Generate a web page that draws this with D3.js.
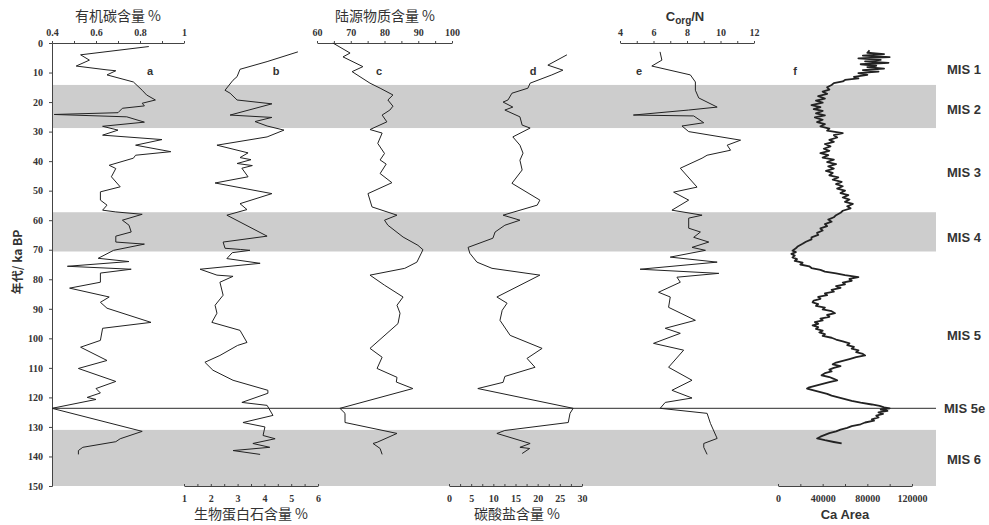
<!DOCTYPE html>
<html>
<head>
<meta charset="utf-8">
<script src="https://cdn.jsdelivr.net/npm/d3@7"></script>
<style>
  body { margin: 0; background: #fff; }
  .tick text { font-family: "Liberation Serif", serif; font-weight: bold; font-size: 10px; fill: #333; }
  .domain, .tick line { stroke: #444; }
  .title { font-family: "Noto Sans CJK SC", sans-serif; font-size: 14px; fill: #333; }
  .mis { font-family: "Liberation Sans", Arial, sans-serif; font-weight: bold; font-size: 13px; fill: #333; }
  .letter { font-family: "Liberation Sans", Arial, sans-serif; font-weight: bold; font-size: 11px; fill: #333; }
</style>
</head>
<body>
<div id="chart"></div>
<script>
// ages in ka BP
var orgC = [[1.2,0.84],[4,0.53],[5.8,0.57],[7.8,0.51],[9.1,0.65],[9.4,0.69],[10.8,0.65],[13.2,0.77],[16,0.81],[17.6,0.83],
  [19.3,0.87],[20.4,0.81],[21.3,0.82],[22.1,0.72],[23.6,0.70],[24.2,0.41],[25,0.74],[26.8,0.82],[28.2,0.63],[29.5,0.70],
  [31.2,0.63],[32.7,0.90],[34.6,0.78],[36.8,0.94],[38,0.78],[39,0.77],[41.4,0.66],[42.5,0.69],[45.3,0.67],[48.7,0.71],
  [50.4,0.62],[53.2,0.62],[54.9,0.65],[56.6,0.63],[57.2,0.69],[58,0.81],[60,0.72],[61.7,0.75],[64,0.76],[65.4,0.69],
  [67.4,0.69],[68.1,0.82],[70.2,0.68],[72.9,0.61],[74,0.75],[75.6,0.47],[76.6,0.76],[77.9,0.62],[81,0.62],[83,0.48],
  [86,0.66],[87.8,0.62],[89.8,0.65],[94.6,0.85],[96.6,0.63],[100.7,0.62],[103,0.53],[107.5,0.65],[110.2,0.52],[114.6,0.69],
  [117,0.60],[118.5,0.62],[120,0.56],[120.7,0.60],[123.7,0.40],[131.5,0.81],[134,0.71],[135,0.69],[136.9,0.54],[138,0.52],[139.3,0.52]];

var opal = [[3,5.25],[6.3,4.1],[8.9,3.09],[11.4,2.98],[12.6,2.83],[16,2.53],[17,2.72],[19.3,2.98],[20.6,4.28],[24.4,2.72],
  [25.2,4.28],[26.6,3.65],[28.1,4.1],[29.5,4.73],[31.8,4.1],[34.6,2.23],[37.2,3.39],[38.8,3.09],[39.5,3.5],[40.8,2.98],
  [41.5,3.55],[42.4,3.16],[45.3,3.39],[47.4,2.16],[51,4.28],[54.4,3.09],[56.4,3.35],[58.3,2.6],[65.4,4.1],[67.4,2.46],
  [69.5,2.53],[69.9,3.1],[70.2,3.46],[71,2.8],[73,2.6],[74.6,3.84],[76.6,1.6],[78.6,2.23],[79,2.83],[81,2.34],
  [85.4,2.46],[88.8,2.16],[91.5,2.23],[94.6,2.04],[97.3,3.09],[101.4,3.35],[102.4,3.0],[105.8,2.34],[108.1,1.78],[110.8,2.08],
  [114.2,2.83],[117.6,4.13],[118.6,4.13],[121.7,3.16],[122.7,4.1],[126.1,4.32],[128.5,3.2],[130,4.02],[132.9,3.95],[134,4.4],
  [135.6,3.57],[136.9,4.2],[138,2.83],[139.3,3.84]];

var terr = [[0,64.7],[3.4,69.8],[4.7,67.7],[8,73.6],[9.7,70.4],[13.6,75.7],[15.3,78.7],[17.6,82.5],[19.3,81],[21.4,82.5],
  [22.7,81.6],[24.4,79.3],[26.7,80.7],[29.3,75.7],[30.5,79.3],[34,78],[37.4,80],[39.6,78.7],[41,80.5],[44.2,78.7],
  [47.3,82.2],[51,75.1],[55.5,76.3],[58.3,83.7],[60,80],[61.7,81],[65.7,85.5],[68.5,89.9],[70,91.4],[74.2,89.6],
  [76.3,86],[78.6,75.7],[82,80],[86,85.5],[88.8,83.7],[91.5,84.6],[95,84],[103.4,75.7],[106.4,79.3],[110.2,77.8],
  [113.2,83.7],[114.8,83.5],[117,88.4],[123.7,66.8],[125.4,68.3],[128.5,68.3],[132.2,83.7],[135.2,77.8],[135.6,76.6],[137.3,78.7],[139.3,79.3]];

var carb = [[4,26.6],[7.5,22.3],[9.2,25.7],[10.8,23.2],[13.6,18.3],[15.3,17.8],[17,14.2],[19.3,13.3],[20,12.2],[21.7,14.4],
  [22.7,12.6],[25,16],[27.8,16.5],[28.8,18.3],[31.8,14.4],[34.6,16],[37.3,16.7],[39.7,16],[43,16.5],[47.5,14.2],
  [53.2,20.5],[54.9,19.9],[58.3,12.2],[60,16],[61.7,12.6],[64,10.4],[66.1,9.9],[69.2,4.3],[71.2,4.7],[74.2,6.3],
  [76.3,9.7],[78.6,20.5],[86,10.8],[88.1,13.1],[90.5,12],[93.9,11.5],[99,13.8],[103.4,21],[106.8,17.6],[109.8,19.4],
  [112.9,12.6],[114.9,12.2],[117,6.5],[123.7,28],[125.4,27.3],[128.5,26.9],[131.2,12.6],[132.2,10.8],[135.6,18.3],[136.9,16],
  [137.3,18.2],[139,16.5]];

var cn = [[3,6.39],[5.8,6.5],[7.8,5.9],[10.8,8.2],[13.2,8.5],[16,8.5],[18.6,8.7],[21.7,9.8],[22.7,8.1],[24.4,4.8],
  [24.7,8.4],[27,9.0],[28.1,7.7],[30,8.1],[32.9,11.2],[34.6,10.4],[36.3,10.6],[38,9.2],[39,8.9],[42.4,7.6],
  [48.8,8.6],[50.5,7.2],[53.2,8.1],[56.6,7.1],[58.3,8.9],[59.3,8.1],[62.7,8.1],[64,8.8],[65.8,8.4],[67.4,9.3],
  [69.2,8.3],[70.2,9.1],[72.5,7],[74.2,9.8],[76.6,5.2],[78,9.9],[79.3,7.4],[81,7.6],[84.4,6.3],[86,7],
  [89.5,6.9],[93.9,8.5],[96.6,6.7],[98.3,7.6],[101.7,6],[104,7.8],[109.8,6.9],[114.2,8.3],[117.6,7.1],[120.2,8.3],
  [121.7,6.7],[123.7,6.4],[125.4,9.2],[128.8,9.4],[133.9,9.8],[135.6,9.0],[136.9,9.0],[139.3,9.2]];

var caArea = [[2.5,82000],[3.3,80000],[3.8,95000],[4.3,76000],[4.8,100000],[5.2,72000],[5.7,92000],[6.2,78000],[6.7,99000],[7.2,74000],
  [7.7,88000],[8.2,80000],[8.7,95000],[9.2,76000],[9.7,90000],[10.2,72000],[10.8,80000],[11.5,68000],[12,72000],[12.5,60000],
  [13,58000],[13.6,50000],[14.2,48000],[15,44000],[15.8,46000],[16.5,40000],[17.2,44000],[18,36000],[18.8,42000],[19.5,34000],
  [20.2,40000],[21,30000],[21.7,38000],[22.4,32000],[23,40000],[23.8,34000],[24.5,42000],[25.2,33000],[26,40000],[26.8,35000],
  [27.5,42000],[28.2,38000],[29,46000],[29.7,44000],[30.5,58000],[31.2,50000],[32,53000],[32.8,46000],[33.5,50000],[34.2,42000],
  [35,47000],[35.8,41000],[36.5,46000],[37.3,38000],[38,45000],[38.8,40000],[39.5,50000],[40.3,44000],[41,52000],[41.8,45000],
  [42.5,50000],[43.3,43000],[44,49000],[44.8,46000],[45.5,54000],[46.3,49000],[47,57000],[47.8,52000],[48.5,58000],[49.3,53000],
  [50,60000],[50.8,56000],[51.5,63000],[52.3,58000],[53,64000],[53.8,60000],[54.5,67000],[55.3,62000],[56,65000],[56.8,58000],
  [57.5,56000],[58.3,52000],[59,50000],[59.8,45000],[60.5,48000],[61.3,42000],[62,44000],[62.8,38000],[63.5,40000],[64.3,35000],
  [65,36000],[65.8,30000],[66.5,30000],[67.3,25000],[68,22000],[68.8,18000],[69.5,16000],[70.3,13000],[70.8,16000],[71.4,12000],
  [72,15000],[72.6,13000],[73.2,17000],[73.8,15000],[74.4,22000],[75,20000],[75.6,28000],[76.2,30000],[76.8,38000],[77.4,42000],
  [78,52000],[78.6,60000],[79.3,72000],[79.9,64000],[80.5,66000],[81.1,58000],[81.7,60000],[82.3,52000],[82.9,56000],[83.6,48000],
  [84.2,50000],[84.8,42000],[85.4,44000],[86,36000],[86.6,38000],[87.2,32000],[87.8,31000],[88.4,36000],[89,34000],[89.6,42000],
  [90.2,40000],[90.8,48000],[91.5,51000],[92.1,44000],[92.7,46000],[93.3,38000],[93.9,40000],[94.5,33000],[95.1,36000],[95.6,31000],
  [96.2,36000],[96.8,34000],[97.4,40000],[98,37000],[98.6,42000],[99.2,40000],[99.8,48000],[100.4,52000],[101,58000],[101.7,64000],
  [102.3,62000],[102.9,68000],[103.5,66000],[104.1,72000],[104.7,70000],[105.3,76000],[105.8,78000],[106.4,70000],[107,64000],[107.6,58000],
  [108.2,52000],[108.8,49000],[109.4,56000],[110,50000],[110.6,46000],[111.2,48000],[111.8,42000],[112.5,39000],[113.1,46000],[113.7,50000],
  [114.2,53000],[114.8,46000],[115.4,40000],[116,34000],[116.6,28000],[117,26000],[117.6,32000],[118.2,38000],[118.8,44000],[119.4,48000],
  [120,54000],[120.6,60000],[121.2,66000],[121.8,74000],[122.4,84000],[122.9,91000],[123.4,95000],[123.7,100000],[124.1,92000],[124.6,98000],
  [125.1,90000],[125.6,94000],[126.2,88000],[126.8,90000],[127.4,84000],[127.9,86000],[128.5,78000],[129.1,74000],[129.7,66000],[130.3,62000],
  [130.9,56000],[131.5,52000],[132.1,46000],[132.7,42000],[133.3,38000],[133.9,35000],[134.5,42000],[135.1,50000],[135.6,57000]];

// glacial stages (shaded) and MIS labels
var bands = [[14.2, 28.8], [57.3, 70.6], [131, 150]];
var misNames = ["MIS 1", "MIS 2", "MIS 3", "MIS 4", "MIS 5", "MIS 5e", "MIS 6"];
var misAges = [8.7, 22.5, 43.7, 65.8, 99, 123.7, 141];
var mis5e = 123.7;
var yTicks = [0, 10, 20, 30, 40, 50, 60, 70, 80, 90, 100, 110, 120, 130, 140, 150];

var svgWidth = 989;
var svgHeight = 525;

var svg = d3.select("#chart")
    .append("svg")
    .attr("width", svgWidth)
    .attr("height", svgHeight);

var yScale = d3.scaleLinear().domain([0, 150]).range([43, 486]);
var xLeft = 52, xRight = 936;

// shaded bands
svg.selectAll("rect.band")
    .data(bands)
    .enter()
    .append("rect")
    .attr("x", xLeft)
    .attr("width", xRight - xLeft)
    .attr("y", d => yScale(d[0]))
    .attr("height", d => yScale(d[1]) - yScale(d[0]))
    .attr("fill", "#cdcdcd");

// MIS 5e line
svg.append("line")
    .attr("x1", xLeft).attr("x2", xRight)
    .attr("y1", yScale(mis5e)).attr("y2", yScale(mis5e))
    .attr("stroke", "#555").attr("stroke-width", 1.2);

// y axis
svg.append("g")
    .attr("transform", `translate(${xLeft},0)`)
    .call(d3.axisLeft(yScale).tickValues(yTicks).tickSize(3).tickPadding(6));

svg.append("text")
    .attr("class", "title")
    .attr("transform", `translate(22, 262) rotate(-90)`)
    .attr("text-anchor", "middle")
    .style("font-weight", "bold")
    .style("font-size", "12px")
    .text("年代/ ka BP");

// x scales
var xA = d3.scaleLinear().domain([0.4, 1]).range([52, 184]);
var xB = d3.scaleLinear().domain([1, 6]).range([184, 318]);
var xC = d3.scaleLinear().domain([60, 100]).range([317, 452]);
var xD = d3.scaleLinear().domain([0, 30]).range([449, 582]);
var xE = d3.scaleLinear().domain([4, 12]).range([620, 754]);
var xF = d3.scaleLinear().domain([0, 120000]).range([778, 912]);

function topAxis(scale, labels, step) {
    var d = scale.domain();
    var ticks = d3.range(d[0], d[1] + step / 2, step);
    svg.append("g")
        .attr("transform", "translate(0,43)")
        .call(d3.axisTop(scale).tickValues(ticks).tickSize(2).tickSizeOuter(0).tickPadding(5)
            .tickFormat(v => labels.some(l => Math.abs(l - v) < 1e-6) ? d3.format("~g")(v) : ""));
}
function bottomAxis(scale, labels, step) {
    var d = scale.domain();
    var ticks = d3.range(d[0], d[1] + step / 2, step);
    svg.append("g")
        .attr("transform", "translate(0,486)")
        .call(d3.axisBottom(scale).tickValues(ticks).tickSize(-2).tickSizeOuter(0).tickPadding(9)
            .tickFormat(v => labels.some(l => Math.abs(l - v) < 1e-6) ? d3.format("~g")(v) : ""));
}

topAxis(xA, [0.4, 0.6, 0.8, 1], 0.1);
topAxis(xC, [60, 70, 80, 90, 100], 5);
topAxis(xE, [4, 6, 8, 10, 12], 1);
bottomAxis(xB, [1, 2, 3, 4, 5, 6], 0.5);
bottomAxis(xD, [0, 5, 10, 15, 20, 25, 30], 2.5);
bottomAxis(xF, [0, 40000, 80000, 120000], 20000);

// axis titles
svg.append("text").attr("class", "title").attr("x", 118).attr("y", 21)
    .attr("text-anchor", "middle").text("有机碳含量 %");
svg.append("text").attr("class", "title").attr("x", 385).attr("y", 21)
    .attr("text-anchor", "middle").text("陆源物质含量 %");
var cnTitle = svg.append("text").attr("class", "title").attr("x", 685).attr("y", 21)
    .attr("text-anchor", "middle").style("font-family", "Liberation Sans, Arial, sans-serif")
    .style("font-weight", "bold").style("font-size", "13px");
cnTitle.append("tspan").text("C");
cnTitle.append("tspan").attr("dy", 3).style("font-size", "10px").text("org");
cnTitle.append("tspan").attr("dy", -3).text("/N");

svg.append("text").attr("class", "title").attr("x", 251).attr("y", 519)
    .attr("text-anchor", "middle").text("生物蛋白石含量 %");
svg.append("text").attr("class", "title").attr("x", 517).attr("y", 519)
    .attr("text-anchor", "middle").text("碳酸盐含量 %");
svg.append("text").attr("class", "title").attr("x", 845).attr("y", 519)
    .attr("text-anchor", "middle").style("font-family", "Liberation Sans, Arial, sans-serif")
    .style("font-weight", "bold").style("font-size", "13px").text("Ca Area");

// curves
var series = [
    { data: orgC, x: xA, w: 1 },
    { data: opal, x: xB, w: 1 },
    { data: terr, x: xC, w: 1 },
    { data: carb, x: xD, w: 1 },
    { data: cn, x: xE, w: 1 },
    { data: caArea, x: xF, w: 1.8 }
];
series.forEach(s => {
    var line = d3.line()
        .x(d => s.x(d[1]))
        .y(d => yScale(d[0]));
    svg.append("path")
        .datum(s.data)
        .attr("d", line)
        .attr("fill", "none")
        .attr("stroke", "#222")
        .attr("stroke-width", s.w)
        .attr("stroke-linejoin", "round");
});

// curve letters
var letters = ["a", "b", "c", "d", "e", "f"];
var letterX = [150, 276, 379, 533, 639, 795];
svg.selectAll("text.letter")
    .data(letters)
    .enter()
    .append("text")
    .attr("class", "letter")
    .attr("x", (d, i) => letterX[i])
    .attr("y", yScale(10.8))
    .attr("text-anchor", "middle")
    .text(d => d);

// MIS labels
svg.selectAll("text.mis")
    .data(misNames)
    .enter()
    .append("text")
    .attr("class", "mis")
    .attr("x", (d, i) => d === "MIS 5e" ? 944 : 947)
    .attr("y", (d, i) => yScale(misAges[i]) + 5)
    .text(d => d);
</script>
</body>
</html>
